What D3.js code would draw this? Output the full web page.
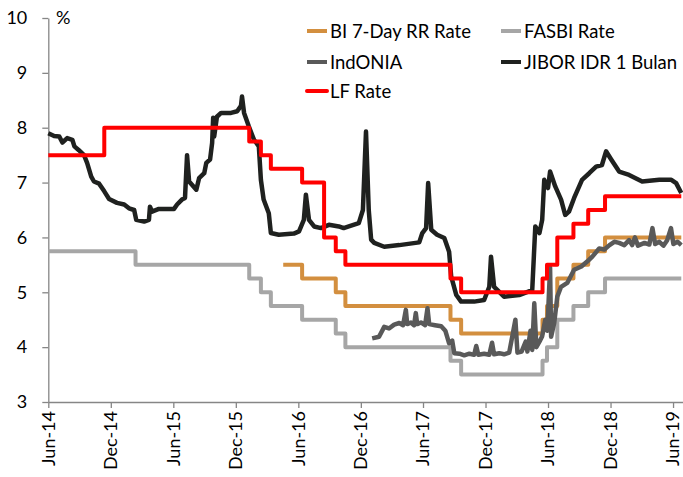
<!DOCTYPE html>
<html><head><meta charset="utf-8">
<script src="https://cdn.jsdelivr.net/npm/d3@7"></script>
<style>
html,body{margin:0;padding:0;background:#fff;}
svg{display:block;font-family:Lato,"Open Sans",sans-serif;}
</style></head>
<body><svg id="c" width="683" height="477"></svg>
<script>
// ---- data ----
const tickLabels = ["Jun-14","Dec-14","Jun-15","Dec-15","Jun-16","Dec-16","Jun-17","Dec-17","Jun-18","Dec-18","Jun-19"];
const tickStepDays = 181.9; // axis major unit (as spaced in the source chart)
const yTicks = [3,4,5,6,7,8,9,10];
const seriesNames = ["BI 7-Day RR Rate","FASBI Rate","IndONIA","JIBOR IDR 1 Bulan","LF Rate"];
const seriesColors = ["#d38f3f","#a6a6a6","#595959","#1f211f","#ff0000"];

const bi7drr = [["2016-04-22",5.5],["2016-06-16",5.25],["2016-09-22",5.0],["2016-10-20",4.75],["2017-08-22",4.5],["2017-09-22",4.25],["2018-05-17",4.5],["2018-05-30",4.75],["2018-06-29",5.25],["2018-08-15",5.5],["2018-09-27",5.75],["2018-11-15",6.0],["2019-06-25",6.0]];

const fasbi = [["2014-06-08",5.75],["2015-02-17",5.5],["2016-01-14",5.25],["2016-02-17",5.0],["2016-03-17",4.75],["2016-06-16",4.5],["2016-09-22",4.25],["2016-10-20",4.0],["2017-08-22",3.75],["2017-09-22",3.5],["2018-05-17",3.75],["2018-05-30",4.0],["2018-06-29",4.5],["2018-08-15",4.75],["2018-09-27",5.0],["2018-11-15",5.25],["2019-06-25",5.25]];

const lfRate = [["2014-06-08",7.5],["2014-11-18",8.0],["2016-01-14",7.75],["2016-02-17",7.5],["2016-03-17",7.25],["2016-06-16",7.0],["2016-08-19",6.0],["2016-09-22",5.75],["2016-10-20",5.5],["2017-08-22",5.25],["2017-09-22",5.0],["2018-05-17",5.25],["2018-05-30",5.5],["2018-06-29",6.0],["2018-08-15",6.25],["2018-09-27",6.5],["2018-11-15",6.75],["2019-06-25",6.75]];

const jibor = [["2014-06-08",7.90],["2014-06-25",7.85],["2014-07-10",7.84],["2014-07-19",7.73],["2014-08-02",7.81],["2014-08-17",7.78],["2014-08-23",7.66],["2014-09-05",7.59],["2014-09-20",7.50],["2014-09-29",7.36],["2014-10-11",7.11],["2014-10-19",7.02],["2014-11-03",6.98],["2014-11-18",6.84],["2014-12-02",6.70],["2014-12-25",6.63],["2015-01-15",6.60],["2015-01-29",6.53],["2015-02-13",6.50],["2015-02-19",6.32],["2015-03-14",6.29],["2015-03-28",6.32],["2015-03-31",6.56],["2015-04-06",6.47],["2015-04-26",6.52],["2015-06-09",6.52],["2015-06-18",6.60],["2015-07-02",6.69],["2015-07-11",6.72],["2015-07-17",7.50],["2015-07-23",7.02],["2015-08-13",6.87],["2015-08-21",7.08],["2015-09-05",7.17],["2015-09-11",7.36],["2015-09-22",7.42],["2015-09-28",7.72],["2015-10-01",8.18],["2015-10-04",7.84],["2015-10-12",8.20],["2015-10-24",8.27],["2015-11-22",8.27],["2015-12-10",8.30],["2015-12-21",8.40],["2015-12-24",8.57],["2015-12-30",8.27],["2016-01-13",8.02],["2016-01-28",7.78],["2016-02-11",7.66],["2016-02-17",7.05],["2016-02-25",6.69],["2016-03-11",6.44],["2016-03-17",6.08],["2016-04-09",6.05],["2016-05-23",6.07],["2016-06-07",6.11],["2016-06-21",6.32],["2016-06-27",6.78],["2016-07-06",6.32],["2016-07-21",6.20],["2016-08-10",6.17],["2016-09-02",6.23],["2016-10-01",6.20],["2016-10-15",6.17],["2016-10-30",6.20],["2016-11-28",6.26],["2016-12-10",6.50],["2016-12-19",7.93],["2016-12-27",6.50],["2017-01-03",5.96],["2017-01-12",5.90],["2017-02-10",5.83],["2017-03-26",5.86],["2017-05-23",5.91],["2017-06-01",6.08],["2017-06-12",6.17],["2017-06-18",6.99],["2017-06-27",6.14],["2017-07-14",6.05],["2017-08-04",5.99],["2017-08-18",5.74],["2017-08-24",5.29],["2017-09-08",4.95],["2017-09-22",4.83],["2017-10-30",4.83],["2017-11-28",4.86],["2017-12-13",5.10],["2017-12-18",5.65],["2017-12-27",5.10],["2018-01-25",4.92],["2018-03-10",4.95],["2018-04-17",5.04],["2018-04-26",6.20],["2018-05-08",6.08],["2018-05-16",6.32],["2018-05-22",7.05],["2018-06-02",6.90],["2018-06-08",7.20],["2018-06-23",6.93],["2018-07-10",6.69],["2018-07-22",6.41],["2018-08-02",6.47],["2018-08-17",6.72],["2018-09-09",7.05],["2018-09-30",7.17],["2018-10-20",7.29],["2018-11-06",7.32],["2018-11-18",7.57],["2018-12-03",7.42],["2018-12-26",7.20],["2019-01-24",7.14],["2019-03-03",7.02],["2019-04-22",7.05],["2019-05-27",7.05],["2019-06-10",6.99],["2019-06-25",6.81]];

const indonia = [["2017-01-06",4.16],["2017-01-26",4.19],["2017-02-10",4.37],["2017-02-24",4.34],["2017-03-11",4.41],["2017-03-26",4.44],["2017-04-06",4.40],["2017-04-14",4.68],["2017-04-18",4.42],["2017-04-29",4.45],["2017-05-08",4.40],["2017-05-13",4.62],["2017-05-17",4.42],["2017-05-28",4.45],["2017-06-09",4.40],["2017-06-16",4.71],["2017-06-21",4.42],["2017-07-08",4.40],["2017-07-26",4.38],["2017-08-07",4.30],["2017-08-18",4.07],["2017-08-27",4.12],["2017-09-02",3.89],["2017-09-17",3.88],["2017-10-01",3.85],["2017-10-16",3.88],["2017-10-30",3.86],["2017-11-05",4.02],["2017-11-11",3.86],["2017-11-28",3.88],["2017-12-13",3.86],["2017-12-21",4.08],["2017-12-27",3.87],["2018-01-11",3.89],["2018-01-25",3.87],["2018-02-09",3.90],["2018-02-27",4.50],["2018-03-05",3.90],["2018-03-17",3.92],["2018-03-29",4.10],["2018-04-03",3.92],["2018-04-12",4.30],["2018-04-17",3.95],["2018-04-23",4.80],["2018-04-29",4.00],["2018-05-08",4.10],["2018-05-16",4.20],["2018-05-25",4.50],["2018-05-31",4.30],["2018-06-08",5.45],["2018-06-11",4.19],["2018-06-20",4.44],["2018-06-29",4.92],["2018-07-10",5.10],["2018-07-28",5.17],["2018-08-17",5.41],["2018-09-07",5.47],["2018-09-24",5.56],["2018-10-09",5.65],["2018-10-29",5.80],["2018-11-13",5.78],["2018-11-28",5.86],["2018-12-12",5.92],["2018-12-26",5.90],["2019-01-10",5.86],["2019-01-24",5.95],["2019-02-02",5.86],["2019-02-10",6.00],["2019-02-19",5.85],["2019-03-10",5.90],["2019-03-24",5.87],["2019-04-02",6.17],["2019-04-10",5.88],["2019-04-22",5.92],["2019-05-04",5.85],["2019-05-15",5.95],["2019-05-26",6.17],["2019-06-02",5.88],["2019-06-14",5.92],["2019-06-25",5.86]];

// ---- chart ----
const parse = d3.timeParse("%Y-%m-%d");
const start = parse("2014-06-08"), end = parse("2019-06-30");
const svg = d3.select("#c");
const x = d3.scaleTime().domain([start, end]).range([48.3, 683]);
const y = d3.scaleLinear().domain([3, 10]).range([402, 18]);
const axisColor = "#868686";
const fs = "18px";

const tickDates = tickLabels.map((_, i) => d3.timeDay.offset(start, Math.round(i * tickStepDays)));

const yAxis = svg.append("g").attr("transform", "translate(48.3,0)")
  .call(d3.axisLeft(y).tickValues(yTicks).tickFormat(d3.format("d")).tickSize(6).tickSizeOuter(0).tickPadding(15));
const xAxis = svg.append("g").attr("transform", "translate(0,402)")
  .call(d3.axisBottom(x).tickValues(tickDates).tickFormat((d, i) => tickLabels[i]).tickSize(6).tickSizeOuter(0));
[yAxis, xAxis].forEach(g => {
  g.select(".domain").attr("stroke", axisColor).attr("stroke-width", 1.3);
  g.selectAll(".tick line").attr("stroke", axisColor).attr("stroke-width", 1.3);
  g.selectAll("text").attr("fill", "#000").style("font-size", fs).style("font-family", "Lato");
});
xAxis.selectAll("text")
  .attr("text-anchor", "end")
  .attr("transform", "rotate(-90)")
  .attr("x", -9).attr("y", 0).attr("dy", "0.33em");

svg.append("text").attr("x", 56).attr("y", 24).text("%").style("font-size", fs);

const line = d3.line().x(d => x(parse(d[0]))).y(d => y(d[1]));
const stepLine = d3.line().x(d => x(parse(d[0]))).y(d => y(d[1])).curve(d3.curveStepAfter);

const series = [
  {data: bi7drr, gen: stepLine, w: 4},
  {data: fasbi, gen: stepLine, w: 4},
  {data: indonia, gen: line, w: 4.5},
  {data: jibor, gen: line, w: 4.5},
  {data: lfRate, gen: stepLine, w: 4}
];
series.forEach((s, i) => {
  svg.append("path").datum(s.data).attr("d", s.gen)
    .attr("fill", "none").attr("stroke", seriesColors[i])
    .attr("stroke-width", s.w).attr("stroke-linejoin", "round");
});

// legend
const legPos = [[307, 31], [501, 31], [307, 62], [501, 62], [307, 91]];
const leg = svg.append("g");
seriesNames.forEach((n, i) => {
  const [lx, ly] = legPos[i];
  leg.append("line").attr("x1", lx).attr("x2", lx + 20).attr("y1", ly).attr("y2", ly)
    .attr("stroke", seriesColors[i]).attr("stroke-width", 4)
    .attr("stroke-linecap", i === 4 ? "round" : "butt");
  leg.append("text").attr("x", lx + 23).attr("y", ly).attr("dy", "0.36em")
    .style("font-size", "18.5px").text(n);
});
</script></body></html>
